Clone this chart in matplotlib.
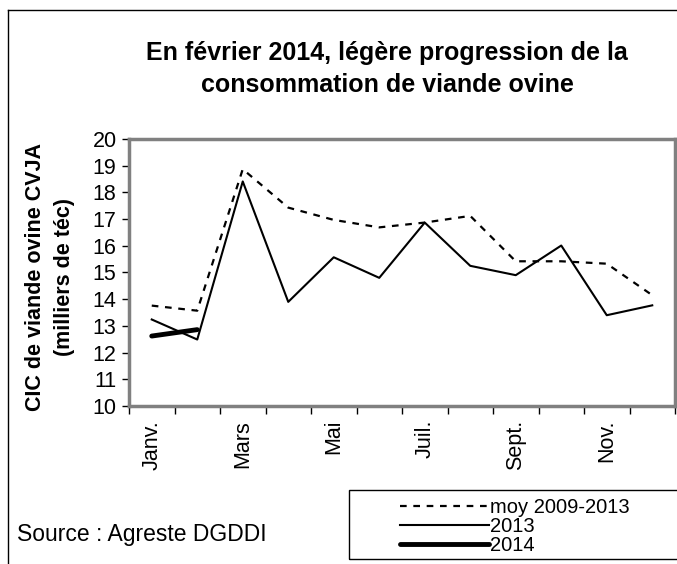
import matplotlib.pyplot as plt
from matplotlib.patches import Rectangle
from matplotlib.lines import Line2D

plt.rcParams['font.family'] = ['Liberation Sans', 'DejaVu Sans']

# monthly values (milliers de téc)
months = ['Janv.', 'Févr.', 'Mars', 'Avr.', 'Mai', 'Juin',
          'Juil.', 'Août', 'Sept.', 'Oct.', 'Nov.', 'Déc.']
moy = [13.76, 13.57, 18.87, 17.43, 16.97, 16.69,
       16.87, 17.12, 15.42, 15.42, 15.33, 14.15]
y2013 = [13.24, 12.49, 18.41, 13.90, 15.57, 14.80,
         16.87, 15.25, 14.90, 16.01, 13.40, 13.77]
y2014 = [12.62, 12.86]

fig = plt.figure(figsize=(6.77, 5.64), dpi=100)
ax = fig.add_axes([129/677, 1 - 406/564, 546/677, 267/564])

x = list(range(len(months)))
ax.plot(x, moy, color='black', lw=1.6, linestyle=(0, (3, 3)), label='moy 2009-2013')
ax.plot(x, y2013, color='black', lw=1.5, label='2013')
ax.plot(x[:len(y2014)], y2014, color='black', lw=3.5, solid_capstyle='round', label='2014')

ax.set_xlim(-0.5, 11.5)
ax.set_ylim(10, 20)
ax.set_yticks(range(10, 21))
ax.tick_params(axis='y', direction='out', length=5, width=1, labelsize=15.5, pad=4)

# ticks between months, labels every other month
ax.set_xticks([i - 0.5 for i in range(13)])
ax.set_xticklabels([])
ax.set_xticks(x[::2], minor=True)
ax.set_xticklabels(months[::2], minor=True, rotation=90, fontsize=15.5)
ax.tick_params(axis='x', which='major', direction='out', length=6, width=1)
ax.tick_params(axis='x', which='minor', length=0, pad=10)

for s in ax.spines.values():
    s.set_color('#808080')
    s.set_linewidth(2.5)

fig.text(387/677, 1 - 69/564,
         'En février 2014, légère progression de la\nconsommation de viande ovine',
         ha='center', va='center', fontsize=18, fontweight='bold', linespacing=1.45)

fig.text(50/677, 1 - 277/564, 'CIC de viande ovine CVJA\n(milliers de téc)',
         rotation=90, ha='center', va='center', fontsize=15.5, fontweight='bold',
         linespacing=1.55)

fig.text(17/677, 1 - 535/564, 'Source : Agreste DGDDI', ha='left', va='center', fontsize=16.5)

# outer frame
fig.add_artist(Line2D([8/677, 8/677], [0, 1 - 10/564], color='black', lw=1))
fig.add_artist(Line2D([8/677, 1], [1 - 10/564, 1 - 10/564], color='black', lw=1))

# legend box
fig.add_artist(Rectangle((349/677, 1 - 559/564), 0.5, 69/564, transform=fig.transFigure,
                         fill=False, edgecolor='black', lw=1))
leg = fig.legend(loc='upper left', bbox_to_anchor=(390/677, 1 - 488/564),
                 frameon=False, fontsize=14.5, handlelength=4.4, handletextpad=0.05,
                 labelspacing=0.0, borderpad=0)

fig.savefig('out.png', dpi=100)
